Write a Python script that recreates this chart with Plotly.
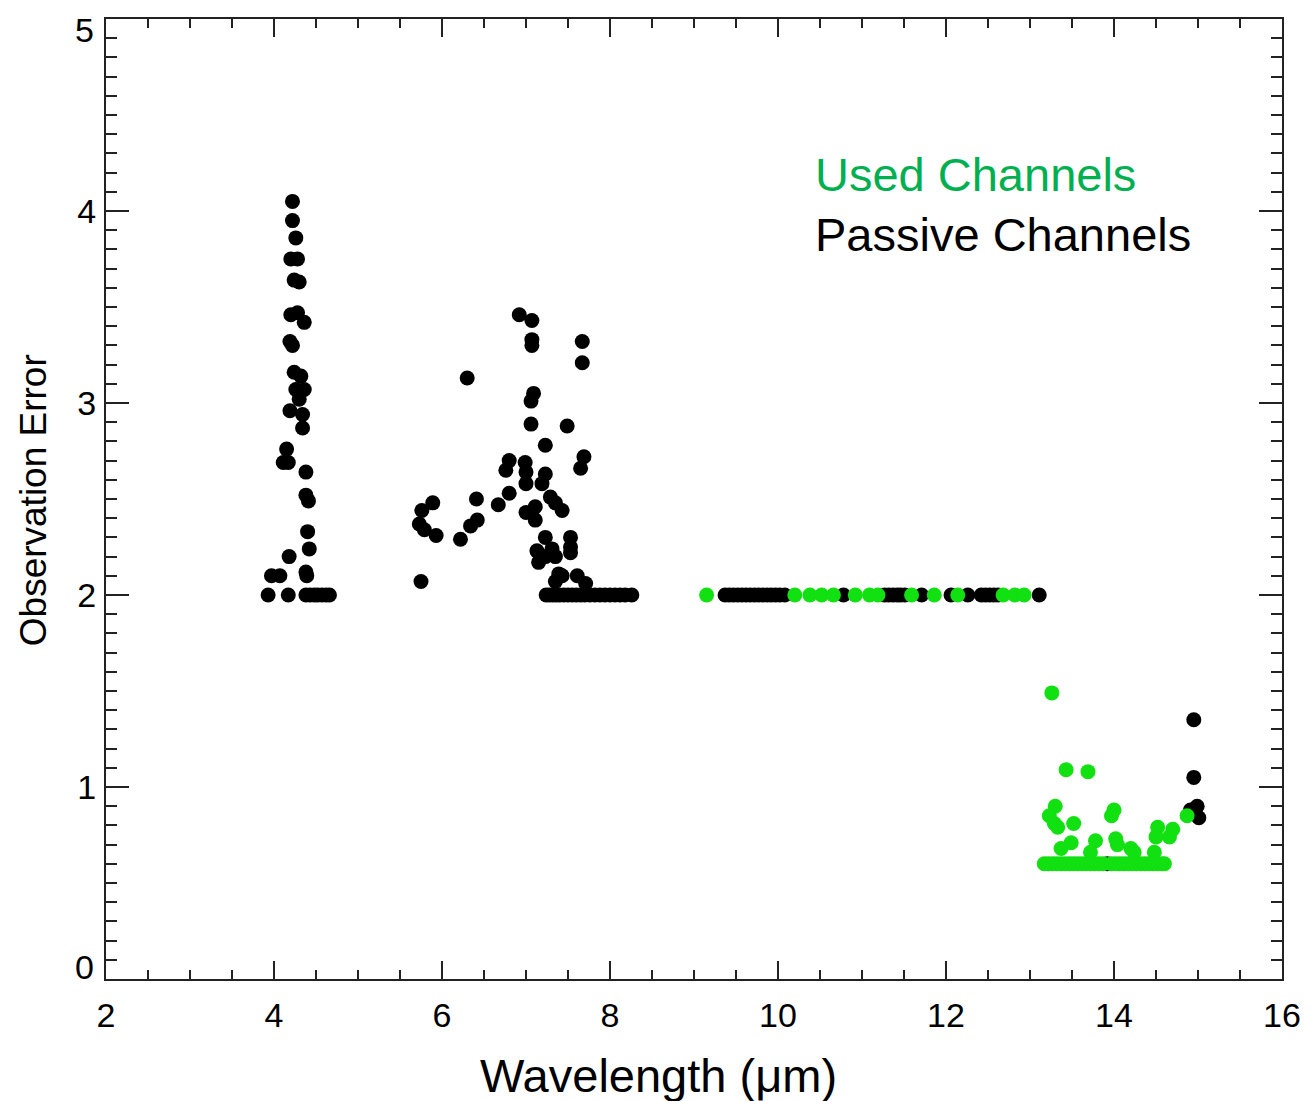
import plotly.graph_objects as go

# ---- data ----
# Passive channels (black)
passive_x = [
    # 4 um band
    4.22, 4.22, 4.26, 4.20, 4.28, 4.24, 4.30, 4.20, 4.28, 4.36, 4.19, 4.22, 4.24, 4.32,
    4.26, 4.36, 4.30, 4.19, 4.34, 4.34, 4.15, 4.17, 4.11, 4.38, 4.38, 4.41, 4.40, 4.42,
    4.18, 4.38, 4.39, 3.97, 4.07, 3.93, 4.17, 4.38, 4.43, 4.48, 4.52, 4.57, 4.62, 4.66,
    # 6-8 um band
    6.92, 7.07, 7.07, 7.07, 7.67, 7.67, 6.30, 7.09, 7.06, 7.06, 7.49, 7.23, 7.69, 7.65,
    6.80, 6.76, 6.99, 7.00, 7.00, 7.23, 7.19, 6.80, 6.67, 6.41, 7.29, 7.35, 7.43, 7.00,
    7.11, 7.11, 7.07, 5.89, 5.76, 6.42, 6.34, 5.73, 5.79, 5.93, 6.22, 7.23, 7.31, 7.35,
    7.53, 7.53, 7.53, 7.13, 7.15, 7.23, 7.39, 7.35, 7.43, 7.61, 7.71, 5.75,
    7.24, 7.28, 7.32, 7.36, 7.40, 7.45, 7.50, 7.55, 7.60, 7.65, 7.70, 7.76, 7.82, 7.88,
    7.94, 8.00, 8.06, 8.12, 8.18, 8.26,
    # window region
    9.37, 9.42, 9.47, 9.52, 9.57, 9.62, 9.67, 9.72, 9.77, 9.82, 9.87, 9.92, 9.97, 10.02,
    10.08, 10.78, 11.27, 11.32, 11.37, 11.42, 11.46, 11.51, 11.71, 12.06, 12.26, 12.42,
    12.47, 12.52, 12.57, 12.62, 13.11,
    # 15 um band
    14.95, 14.95, 14.99, 14.91, 15.01, 13.92,
]
passive_y = [
    4.05, 3.95, 3.86, 3.75, 3.75, 3.64, 3.63, 3.46, 3.47, 3.42, 3.32, 3.30, 3.16, 3.14,
    3.07, 3.07, 3.02, 2.96, 2.94, 2.87, 2.76, 2.69, 2.69, 2.64, 2.52, 2.49, 2.33, 2.24,
    2.20, 2.12, 2.10, 2.10, 2.10, 2.00, 2.00, 2.00, 2.00, 2.00, 2.00, 2.00, 2.00, 2.00,
    3.46, 3.43, 3.33, 3.30, 3.32, 3.21, 3.13, 3.05, 3.01, 2.89, 2.88, 2.78, 2.72, 2.66,
    2.70, 2.65, 2.69, 2.64, 2.58, 2.63, 2.58, 2.53, 2.47, 2.50, 2.51, 2.48, 2.44, 2.43,
    2.46, 2.39, 2.43, 2.48, 2.44, 2.39, 2.36, 2.37, 2.34, 2.31, 2.29, 2.30, 2.24, 2.20,
    2.30, 2.25, 2.22, 2.23, 2.17, 2.20, 2.11, 2.07, 2.10, 2.10, 2.06, 2.07,
    2.00, 2.00, 2.00, 2.00, 2.00, 2.00, 2.00, 2.00, 2.00, 2.00, 2.00, 2.00, 2.00, 2.00,
    2.00, 2.00, 2.00, 2.00, 2.00, 2.00,
    2.00, 2.00, 2.00, 2.00, 2.00, 2.00, 2.00, 2.00, 2.00, 2.00, 2.00, 2.00, 2.00, 2.00,
    2.00, 2.00, 2.00, 2.00, 2.00, 2.00, 2.00, 2.00, 2.00, 2.00, 2.00, 2.00,
    2.00, 2.00, 2.00, 2.00, 2.00,
    1.35, 1.05, 0.90, 0.88, 0.84, 0.60,
]

# Used channels (green)
used_x = [
    9.15, 10.20, 10.38, 10.52, 10.66, 10.92, 11.09, 11.19, 11.59, 11.86, 12.14, 12.68,
    12.82, 12.93,
    13.26, 13.43, 13.69, 13.30, 13.23, 13.29, 13.33, 13.52, 14.00, 13.97, 13.37, 13.49,
    13.78, 13.72, 14.02, 14.04, 14.20, 14.24, 14.52, 14.50, 14.70, 14.66, 14.48, 14.87,
    13.17, 13.22, 13.27, 13.32, 13.37, 13.42, 13.47, 13.52, 13.57, 13.62, 13.67, 13.72,
    13.77, 13.82, 13.87, 13.97, 14.02, 14.07, 14.12, 14.17, 14.22, 14.27, 14.32, 14.37,
    14.42, 14.47, 14.52, 14.57, 14.60,
]
used_y = [
    2.00, 2.00, 2.00, 2.00, 2.00, 2.00, 2.00, 2.00, 2.00, 2.00, 2.00, 2.00, 2.00, 2.00,
    1.49, 1.09, 1.08, 0.90, 0.85, 0.81, 0.79, 0.81, 0.88, 0.85, 0.68, 0.71,
    0.72, 0.66, 0.73, 0.70, 0.68, 0.66, 0.79, 0.74, 0.78, 0.74, 0.66, 0.85,
    0.60, 0.60, 0.60, 0.60, 0.60, 0.60, 0.60, 0.60, 0.60, 0.60, 0.60, 0.60,
    0.60, 0.60, 0.60, 0.60, 0.60, 0.60, 0.60, 0.60, 0.60, 0.60, 0.60, 0.60,
    0.60, 0.60, 0.60, 0.60, 0.60,
]

x_ticks = [2, 4, 6, 8, 10, 12, 14, 16]
y_ticks = [0, 1, 2, 3, 4, 5]
y_tick_text = ["", "1", "2", "3", "4", ""]   # end labels drawn inset below

FONT = "Liberation Sans, Arial, Helvetica, sans-serif"
AXIS_COLOR = "#222222"

fig = go.Figure()
fig.add_trace(go.Scatter(
    x=passive_x, y=passive_y, mode="markers", name="Passive Channels",
    marker=dict(color="black", size=15, line=dict(width=0)), showlegend=False,
))
fig.add_trace(go.Scatter(
    x=used_x, y=used_y, mode="markers", name="Used Channels",
    marker=dict(color="#11e011", size=15, line=dict(width=0)), showlegend=False,
))

common_axis = dict(
    showline=True, linecolor=AXIS_COLOR, linewidth=2, mirror="ticks",
    ticks="inside", tickcolor=AXIS_COLOR, tickwidth=2,
    showgrid=False, zeroline=False,
    tickfont=dict(family=FONT, size=34, color="black"),
)

fig.update_xaxes(
    range=[2, 16], tickvals=x_ticks, ticktext=[str(v) for v in x_ticks], ticklen=18,
    minor=dict(ticks="inside", dtick=0.5, ticklen=9, tickwidth=2, tickcolor=AXIS_COLOR),
    ticklabelstandoff=5, **common_axis,
)
fig.update_yaxes(
    range=[0, 5], tickvals=y_ticks, ticktext=y_tick_text, ticklen=23,
    minor=dict(ticks="inside", dtick=0.1, ticklen=11, tickwidth=2, tickcolor=AXIS_COLOR),
    ticklabelstandoff=1, **common_axis,
)

# inset end labels of the y axis (as in the reference)
fig.add_annotation(text=str(y_ticks[-1]), xref="paper", yref="paper",
                   x=-0.0085, y=0.9885, xanchor="right", yanchor="middle", showarrow=False,
                   font=dict(family=FONT, size=34, color="black"))
fig.add_annotation(text=str(y_ticks[0]), xref="paper", yref="paper",
                   x=-0.0085, y=0.0120, xanchor="right", yanchor="middle", showarrow=False,
                   font=dict(family=FONT, size=34, color="black"))

fig.add_annotation(text="Wavelength (μm)", xref="paper", yref="paper",
                   x=0.4695, y=-0.10, xanchor="center", yanchor="middle", showarrow=False,
                   font=dict(family=FONT, size=47, color="black"))
fig.add_annotation(text="Observation Error", xref="paper", yref="paper",
                   x=-0.061, y=0.499, xanchor="center", yanchor="middle", showarrow=False,
                   textangle=-90, font=dict(family=FONT, size=37, color="black"))
fig.add_annotation(text="Used Channels", xref="paper", yref="paper",
                   x=0.6014, y=0.8385, xanchor="left", yanchor="middle", showarrow=False,
                   font=dict(family=FONT, size=47, color="#00b050"))
fig.add_annotation(text="Passive Channels", xref="paper", yref="paper",
                   x=0.6014, y=0.7750, xanchor="left", yanchor="middle", showarrow=False,
                   font=dict(family=FONT, size=47, color="black"))

fig.update_layout(
    width=1313, height=1101,
    margin=dict(l=106, r=28, t=19, b=122),
    plot_bgcolor="white", paper_bgcolor="white",
    showlegend=False,
)

fig.write_html("out.html")
